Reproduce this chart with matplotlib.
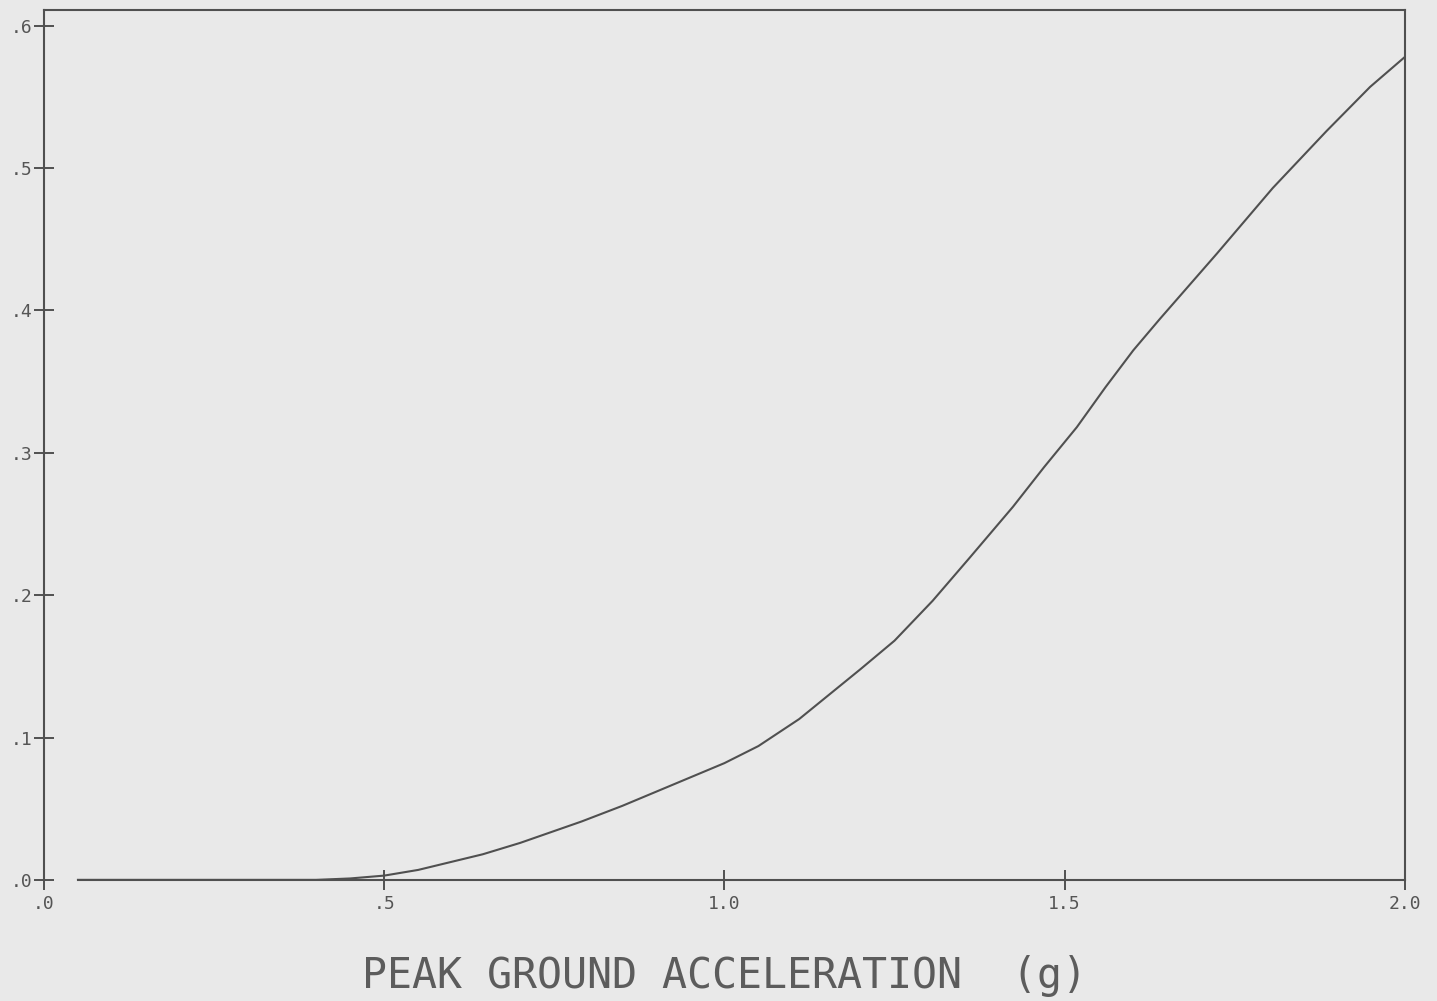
import matplotlib.pyplot as plt

# values
pga = [0.05, 0.20, 0.30, 0.40, 0.45, 0.50, 0.55, 0.645, 0.70, 0.79, 0.85, 0.94, 1.00,
       1.05, 1.11, 1.20, 1.25, 1.306, 1.36, 1.424, 1.47, 1.518, 1.56, 1.601, 1.64,
       1.724, 1.806, 1.885, 1.949, 2.0]
prob = [0.0, 0.0, 0.0, 0.0, 0.001, 0.003, 0.007, 0.018, 0.026, 0.041, 0.052, 0.070, 0.082,
        0.094, 0.113, 0.148, 0.168, 0.196, 0.226, 0.262, 0.290, 0.318, 0.346, 0.372, 0.394,
        0.440, 0.486, 0.526, 0.557, 0.578]

x_ticks = [0.0, 0.5, 1.0, 1.5, 2.0]
x_tick_labels = [".0", ".5", "1.0", "1.5", "2.0"]
y_ticks = [0.0, 0.1, 0.2, 0.3, 0.4, 0.5, 0.6]
y_tick_labels = [".0", ".1", ".2", ".3", ".4", ".5", ".6"]

bg = "#e9e9e9"
ink = "#505050"

fig = plt.figure(figsize=(14.37, 10.01), dpi=100, facecolor=bg)
ax = fig.add_axes([0.0306, 0.121, 0.947, 0.869])
ax.set_facecolor(bg)

ax.plot(pga, prob, color=ink, lw=1.5)

ax.set_xlim(0, 2.0)
ax.set_ylim(0, 0.611)

for side in ["left", "right", "top", "bottom"]:
    ax.spines[side].set_color(ink)
    ax.spines[side].set_linewidth(1.5)
ax.spines["bottom"].set_bounds(0.05, 2.0)

ax.set_xticks(x_ticks)
ax.set_xticklabels(x_tick_labels)
ax.set_yticks(y_ticks)
ax.set_yticklabels(y_tick_labels)
ax.tick_params(direction="inout", length=14, width=1.4, color=ink,
               labelcolor="#555555", labelsize=13, pad=1)
ax.tick_params(axis="x", pad=4)
for lbl in ax.get_xticklabels() + ax.get_yticklabels():
    lbl.set_family("DejaVu Sans Mono")

ax.set_xlabel("PEAK GROUND ACCELERATION  (g)", fontsize=30, color="#5c5c5c",
              labelpad=30, family="DejaVu Sans Mono")

fig.savefig("out.png", dpi=100, facecolor=bg)
